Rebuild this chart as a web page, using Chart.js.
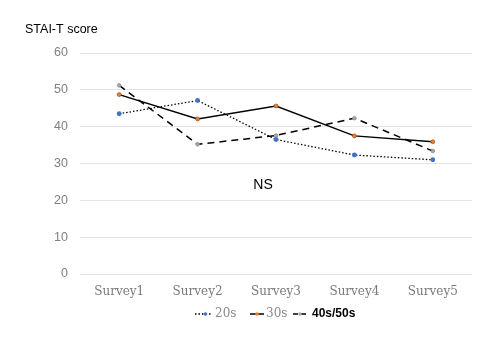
<!DOCTYPE html>
<html><head><meta charset="utf-8">
<script src="https://cdn.jsdelivr.net/npm/chart.js@4/dist/chart.umd.min.js"></script>
<style>html,body{margin:0;padding:0;background:#fff}#wrap{width:500px;height:350px}</style>
</head><body><div id="wrap"><canvas id="c" width="500" height="350"></canvas></div>
<script>
const categories = ["Survey1","Survey2","Survey3","Survey4","Survey5"];
const s20 = [43.5, 47.1, 36.5, 32.3, 31.0];
const s30 = [48.7, 42.1, 45.6, 37.5, 35.9];
const s40 = [51.2, 35.2, 37.6, 42.3, 33.4];
const seriesNames = ["20s","30s","40s/50s"];
const yTitle = "STAI-T score";
const note = "NS";

const serif = "'DejaVu Serif', 'Liberation Serif', serif";
const sans = "'Liberation Sans', Arial, sans-serif";

const extras = {
  id: 'extras',
  afterDraw(chart) {
    const ctx = chart.ctx;
    ctx.save();
    ctx.fillStyle = '#000';
    ctx.font = "12.5px " + sans;
    ctx.textBaseline = 'middle';
    ctx.textAlign = 'left';
    ctx.fillText(yTitle, 25, 30);
    ctx.font = "14px " + sans;
    ctx.textAlign = 'center';
    const xs = chart.scales.x, ys = chart.scales.y;
    ctx.fillText(note, xs.getPixelForValue(2) - 13, ys.getPixelForValue(24));
    // legend
    const items = [
      {x: 195, len: 17, tx: 215, font: "12px " + serif, color: '#8a8a8a'},
      {x: 250, len: 14, tx: 266, font: "12px " + serif, color: '#8a8a8a'},
      {x: 293, len: 14, tx: 312, font: "bold 12px " + sans, color: '#000'}
    ];
    const y = 314;
    chart.data.datasets.forEach((ds, i) => {
      const it = items[i];
      ctx.strokeStyle = '#000';
      ctx.lineWidth = 1.5;
      ctx.setLineDash(i === 2 ? [5, 3] : (ds.borderDash || []));
      ctx.beginPath(); ctx.moveTo(it.x, y); ctx.lineTo(it.x + it.len, y); ctx.stroke();
      ctx.setLineDash([]);
      ctx.fillStyle = ds.pointBackgroundColor;
      ctx.beginPath(); ctx.arc(it.x + it.len / 2 + (i === 0 ? 2 : 0), y, 1.8, 0, Math.PI * 2); ctx.fill();
      ctx.fillStyle = it.color;
      ctx.font = it.font;
      ctx.textAlign = 'left';
      ctx.fillText(ds.label, it.tx, y);
    });
    ctx.restore();
  }
};

new Chart(document.getElementById('c'), {
  type: 'line',
  data: {
    labels: categories,
    datasets: [
      {label: seriesNames[0], data: s20, borderColor: '#000', borderWidth: 1.3, borderDash: [1.5, 2],
       pointBackgroundColor: '#4472C4', pointBorderColor: '#4472C4', pointRadius: 1.8, tension: 0},
      {label: seriesNames[1], data: s30, borderColor: '#000', borderWidth: 1.5, borderDash: [],
       pointBackgroundColor: '#ED7D31', pointBorderColor: '#8a4516', pointBorderWidth: 0.6, pointRadius: 2, tension: 0},
      {label: seriesNames[2], data: s40, borderColor: '#000', borderWidth: 1.5, borderDash: [7, 5],
       pointBackgroundColor: '#A8A8A8', pointBorderColor: '#8a8a8a', pointBorderWidth: 0.8, pointRadius: 1.8, tension: 0}
    ]
  },
  options: {
    responsive: false,
    animation: false,
    layout: {padding: {top: 53, right: 28, left: 0, bottom: 0}},
    plugins: {legend: {display: false}, tooltip: {enabled: false}},
    scales: {
      x: {
        offset: true,
        grid: {display: false, drawTicks: false},
        border: {display: false},
        ticks: {font: {family: serif, size: 12}, color: '#7a7a7a', padding: 11},
        afterFit(s) { s.height = 76; }
      },
      y: {
        min: 0, max: 60,
        grid: {color: '#e4e4e4', drawTicks: false},
        border: {display: false},
        ticks: {stepSize: 10, font: {family: sans, size: 12.5}, color: '#808080', padding: 12},
        afterFit(s) { s.width = 80; }
      }
    }
  },
  plugins: [extras]
});
</script></body></html>
